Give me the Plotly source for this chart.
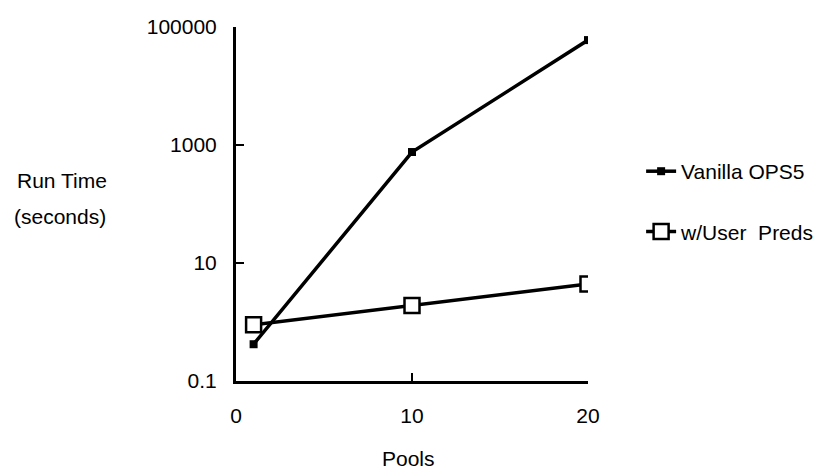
import plotly.graph_objects as go

pools = [1, 10, 20]
vanilla_ops5 = [0.42, 760, 60000]
user_preds = [0.9, 1.9, 4.4]

y_tickvals = [0.1, 10, 1000, 100000]
y_ticktext = ["0.1", "10", "1000", "100000"]
x_tickvals = [0, 10, 20]

font_family = "Liberation Sans, Arial, sans-serif"

fig = go.Figure()
fig.add_trace(go.Scatter(
    x=pools, y=vanilla_ops5, mode="lines+markers", name="Vanilla OPS5",
    legendgroup="a",
    line=dict(color="black", width=3.5),
    marker=dict(symbol="square", size=8, color="black"),
))
fig.add_trace(go.Scatter(
    x=pools, y=user_preds, mode="lines+markers", name="w/User  Preds",
    legendgroup="b",
    line=dict(color="black", width=3.5),
    marker=dict(symbol="square", size=15, color="white",
                line=dict(color="black", width=2.5)),
))

fig.update_layout(
    width=823, height=475,
    margin=dict(l=236, r=235, t=27, b=94),
    paper_bgcolor="white", plot_bgcolor="white",
    font=dict(family=font_family, size=21, color="black"),
    showlegend=True,
    legend=dict(xref="container", yref="container",
                x=0.779, y=0.682, xanchor="left", yanchor="top",
                tracegroupgap=30, font=dict(size=21),
                itemwidth=30, bgcolor="rgba(0,0,0,0)"),
    xaxis=dict(range=[0, 20], tickvals=x_tickvals, ticks="inside", ticklen=8,
               tickwidth=2, tickcolor="black",
               showline=True, linecolor="black", linewidth=3,
               showgrid=False, zeroline=False, ticklabelstandoff=14,
               tickfont=dict(size=21)),
    yaxis=dict(type="log", range=[-1, 5], tickvals=y_tickvals, ticktext=y_ticktext,
               ticks="inside", ticklen=8, tickwidth=2, tickcolor="black",
               showline=True, linecolor="black", linewidth=3,
               showgrid=False, zeroline=False, ticklabelstandoff=12,
               tickfont=dict(size=21)),
    annotations=[
        dict(text="Pools", x=0.489, y=-0.22, xref="paper", yref="paper",
             xanchor="center", yanchor="middle", showarrow=False,
             font=dict(size=21)),
        dict(text="Run Time", x=-0.494, y=0.565, xref="paper", yref="paper",
             xanchor="center", yanchor="middle", showarrow=False,
             font=dict(size=21)),
        dict(text="(seconds)", x=-0.5, y=0.465, xref="paper", yref="paper",
             xanchor="center", yanchor="middle", showarrow=False,
             font=dict(size=21)),
    ],
)

fig.write_html(
    "out.html",
    config={"displayModeBar": False},
    post_script=(
        "document.body.style.margin='0';"
        "document.body.style.overflow='hidden';"
        "document.documentElement.style.overflow='hidden';"
    ),
)
